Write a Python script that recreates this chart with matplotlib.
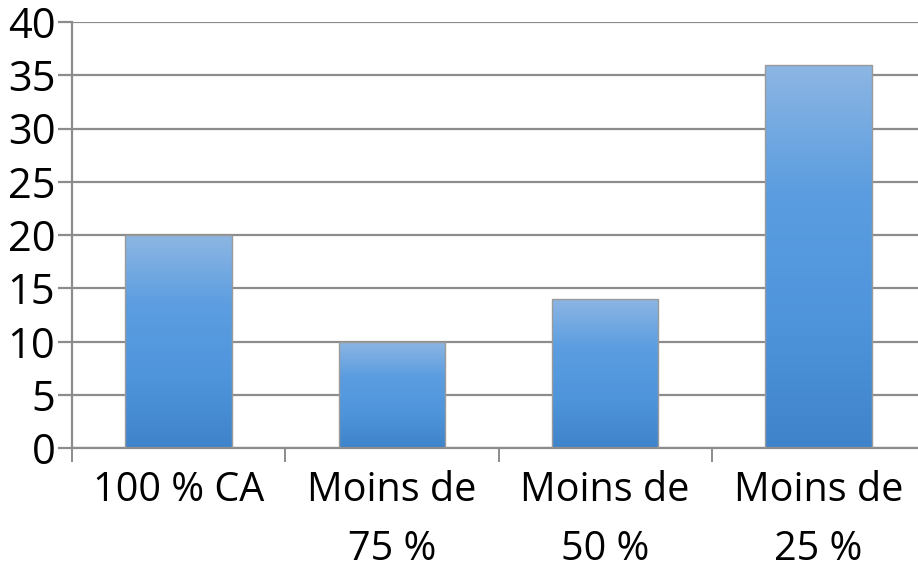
import matplotlib
matplotlib.use("Agg")
import matplotlib.pyplot as plt
import numpy as np
from matplotlib.colors import LinearSegmentedColormap

categories = ["100 % CA", "Moins de\n75 %", "Moins de\n50 %", "Moins de\n25 %"]
values = [20, 10, 14, 36]
yticks = [0, 5, 10, 15, 20, 25, 30, 35, 40]

plt.rcParams["font.family"] = ["Open Sans", "DejaVu Sans"]

fig = plt.figure(figsize=(9.18, 5.70), dpi=100)
# plot area runs slightly past the right edge, as in the cropped original
ax = fig.add_axes([72 / 918, 1 - 448 / 570, 853 / 918, 426 / 570])

grad = LinearSegmentedColormap.from_list(
    "bar", ["#3f84cb", "#4f95dc", "#5b9de0", "#8db6e3"]
)

x = np.arange(len(values))
bars = ax.bar(x, values, width=0.5, color="none", edgecolor="#9a9a9a",
              linewidth=1.0, zorder=3)

for b in bars:
    x0, y0 = b.get_x(), b.get_y()
    w, h = b.get_width(), b.get_height()
    img = ax.imshow(np.linspace(0, 1, 256).reshape(-1, 1), cmap=grad,
                    origin="lower", aspect="auto",
                    extent=[x0, x0 + w, y0, y0 + h], zorder=2)
    img.set_clip_path(b)

ax.set_xlim(-0.5, len(values) - 0.5)
ax.set_ylim(0, 40)
ax.set_yticks(yticks)
ax.yaxis.grid(True, color="#8c8c8c", linewidth=1.6, zorder=1)
ax.set_axisbelow(True)

ax.set_xticks(x)
ax.set_xticklabels(categories, fontsize=28.5, linespacing=1.62)
ax.set_xticks(np.arange(len(values) + 1) - 0.5, minor=True)
ax.tick_params(axis="x", which="major", length=0, pad=16)
ax.tick_params(axis="x", which="minor", length=10, width=1.4, color="#8c8c8c")
ax.tick_params(axis="y", labelsize=30, length=10, width=1.6, color="#8c8c8c",
               pad=2)

for s in ["top", "right"]:
    ax.spines[s].set_visible(False)
for s in ["left", "bottom"]:
    ax.spines[s].set_color("#8c8c8c")
    ax.spines[s].set_linewidth(1.6)

plt.savefig("out.png", dpi=100)
